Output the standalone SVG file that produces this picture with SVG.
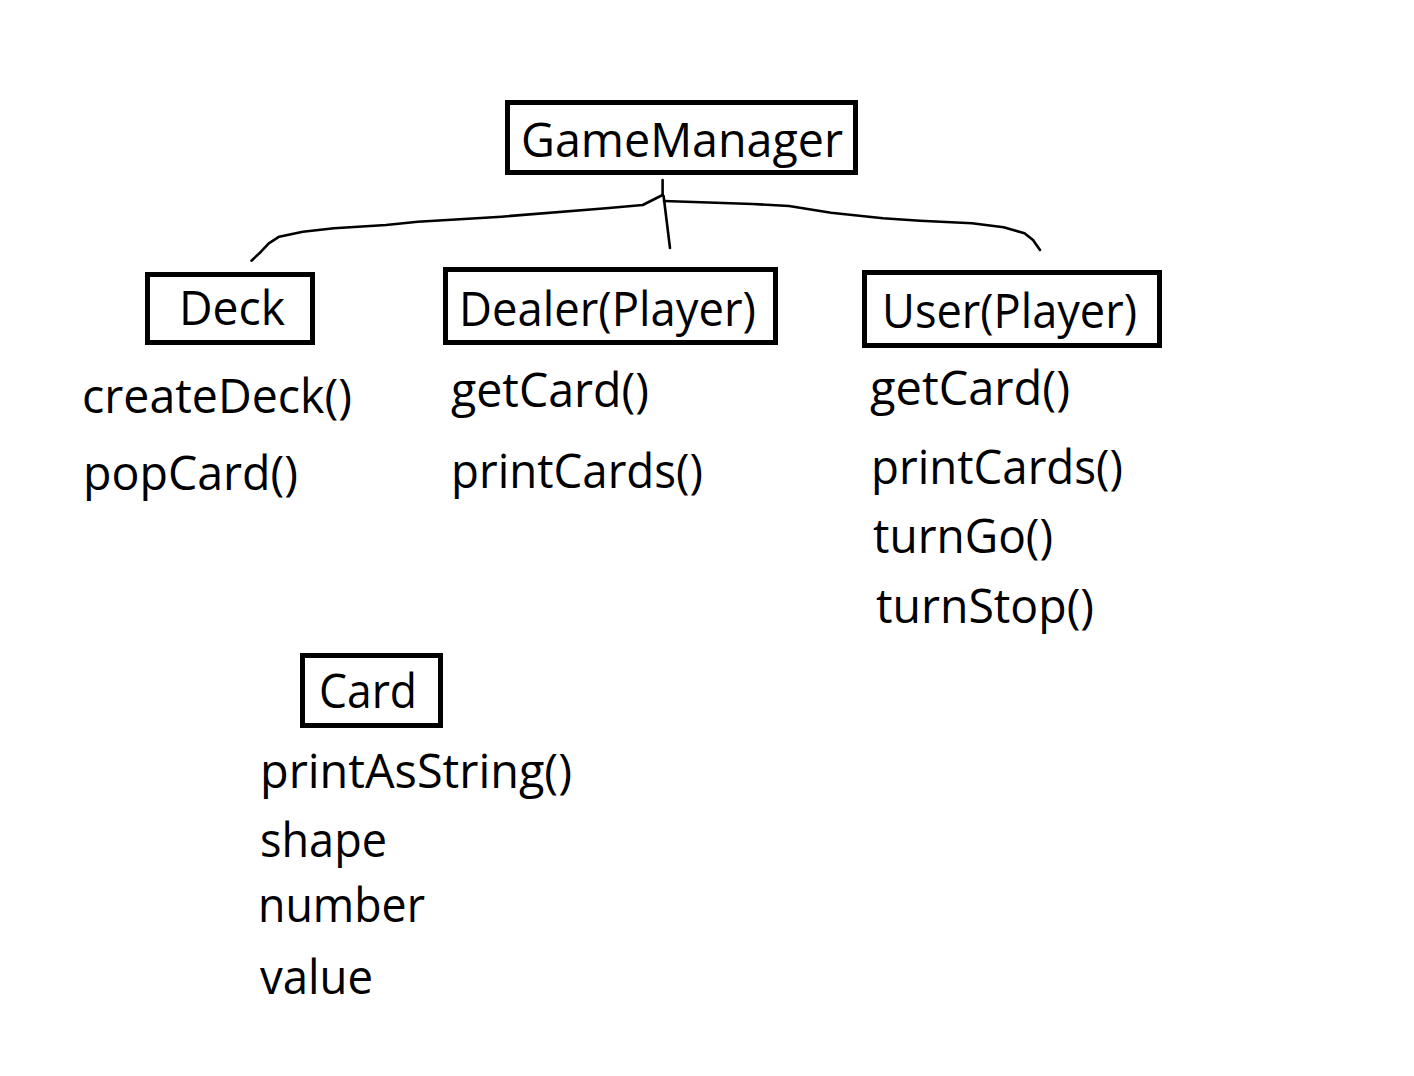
<svg xmlns="http://www.w3.org/2000/svg" width="1414" height="1076" viewBox="0 0 1414 1076">
<style>
.box{fill:none;stroke:#000;stroke-width:5}
.t{font-family:"Open Sans","Noto Sans",sans-serif;font-size:47px;fill:#000}
.c{fill:none;stroke:#000;stroke-width:2.6;stroke-linejoin:round;stroke-linecap:round}
</style>
<rect width="1414" height="1076" fill="#fff"/>
<g id="connectors">
<path class="c" d="M662.6,180 L662.6,195"/>
<path class="c" d="M662.6,195 L642.7,205 L606,208.3 L501.5,216.7 L459.7,219.3 L417.8,221.7 L386,225 L334,228.3 L302.8,231.7 L279.2,236.7 L268.8,243.3 L261,251.7 L251.5,260.7"/>
<path class="c" d="M663.6,196 L670,248"/>
<path class="c" d="M664,201 L752.5,204 L789,206 L831,212.7 L883,218.3 L920,220.7 L972,223.3 L1003.6,227.3 L1024.5,233.3 L1033,240 L1040,250"/>
</g>
<g id="GameManager">
<rect class="box" x="507.5" y="102.5" width="348" height="70"/>
<text class="t" x="521" y="157" textLength="322" lengthAdjust="spacingAndGlyphs">GameManager</text>
</g>
<g id="Deck">
<rect class="box" x="147.5" y="274.5" width="165" height="68"/>
<text class="t" x="179" y="325" textLength="106" lengthAdjust="spacingAndGlyphs">Deck</text>
<text class="t" x="82" y="413" textLength="270" lengthAdjust="spacingAndGlyphs">createDeck()</text>
<text class="t" x="83" y="490" textLength="215" lengthAdjust="spacingAndGlyphs">popCard()</text>
</g>
<g id="Dealer">
<rect class="box" x="445.5" y="269.5" width="330" height="73"/>
<text class="t" x="459" y="326" textLength="297" lengthAdjust="spacingAndGlyphs">Dealer(Player)</text>
<text class="t" x="451" y="407" textLength="198" lengthAdjust="spacingAndGlyphs">getCard()</text>
<text class="t" x="451" y="488" textLength="252" lengthAdjust="spacingAndGlyphs">printCards()</text>
</g>
<g id="User">
<rect class="box" x="864.5" y="272.5" width="295" height="73"/>
<text class="t" x="882" y="328" textLength="255" lengthAdjust="spacingAndGlyphs">User(Player)</text>
<text class="t" x="870" y="405" textLength="200" lengthAdjust="spacingAndGlyphs">getCard()</text>
<text class="t" x="871" y="484" textLength="252" lengthAdjust="spacingAndGlyphs">printCards()</text>
<text class="t" x="873" y="553" textLength="180" lengthAdjust="spacingAndGlyphs">turnGo()</text>
<text class="t" x="876" y="623" textLength="218" lengthAdjust="spacingAndGlyphs">turnStop()</text>
</g>
<g id="Card">
<rect class="box" x="302.5" y="655.5" width="138" height="70"/>
<text class="t" x="319" y="708" textLength="98" lengthAdjust="spacingAndGlyphs">Card</text>
<text class="t" x="260" y="788" textLength="312" lengthAdjust="spacingAndGlyphs">printAsString()</text>
<text class="t" x="260" y="857" textLength="127" lengthAdjust="spacingAndGlyphs">shape</text>
<text class="t" x="258" y="922" textLength="167" lengthAdjust="spacingAndGlyphs">number</text>
<text class="t" x="260" y="994" textLength="113" lengthAdjust="spacingAndGlyphs">value</text>
</g>
</svg>
